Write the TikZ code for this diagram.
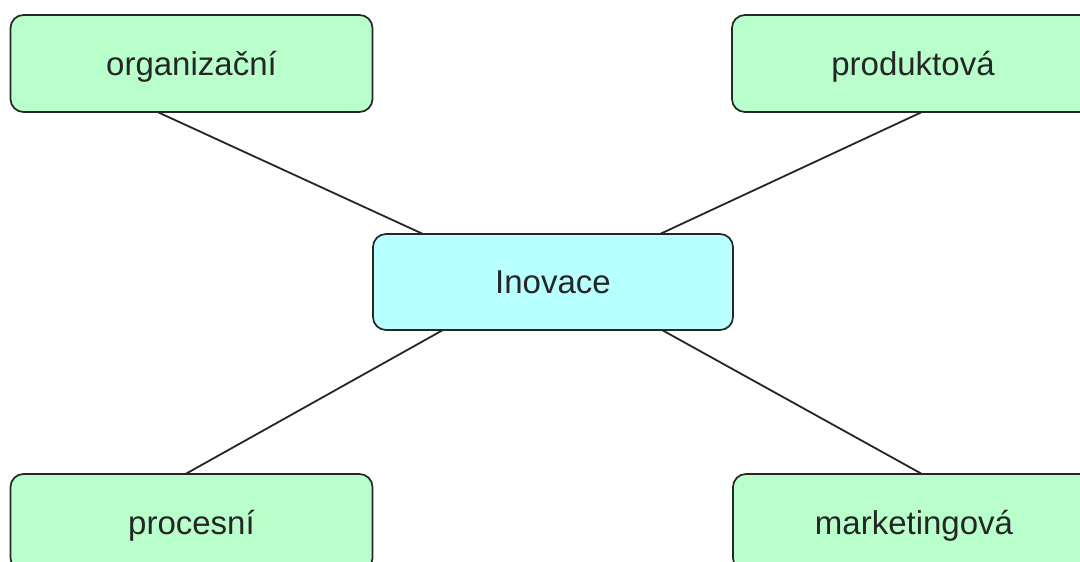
\documentclass[tikz,border=0pt]{standalone}
\usepackage{fontspec}
\setmainfont{Liberation Sans}
\begin{document}
\begin{tikzpicture}[x=1pt,y=-1pt,
  box/.style={draw=black!85, line width=1.7pt, rounded corners=13pt,
    minimum width=362pt, minimum height=97pt, inner sep=0pt, outer sep=0pt,
    text height=30pt, text depth=7pt,
    font=\fontsize{33}{36}\selectfont, text=black!85},
  leaf/.style={box, fill=leafgreen},
  hub/.style={box, fill=hubcyan, minimum width=360pt, minimum height=96pt},
  link/.style={draw=black!85, line width=1.8pt}]
\definecolor{leafgreen}{RGB}{184,255,204}
\definecolor{hubcyan}{RGB}{184,255,255}
\useasboundingbox (0,0) rectangle (1080,562);
\clip (0,0) rectangle (1080,562);
\fill[white] (0,0) rectangle (1080,562);

\node[leaf] (org)  at (191.5,63.5)  {organizační};
\node[leaf] (prod) at (913,63.5)    {produktová};
\node[hub]  (ino)  at (553,282)     {Inovace};
\node[leaf] (proc) at (191.5,522.5) {procesní};
\node[leaf] (mark) at (914,522.5)   {marketingová};

% connectors from the hub to the four kinds of innovation
\draw[link] ([xshift=147pt]org.south west) -- ([xshift=50pt]ino.north west);
\draw[link] ([xshift=190pt]prod.south west) -- ([xshift=287pt]ino.north west);
\draw[link] ([xshift=70pt]ino.south west) -- ([xshift=175pt]proc.north west);
\draw[link] ([xshift=289pt]ino.south west) -- ([xshift=189pt]mark.north west);
\end{tikzpicture}
\end{document}
